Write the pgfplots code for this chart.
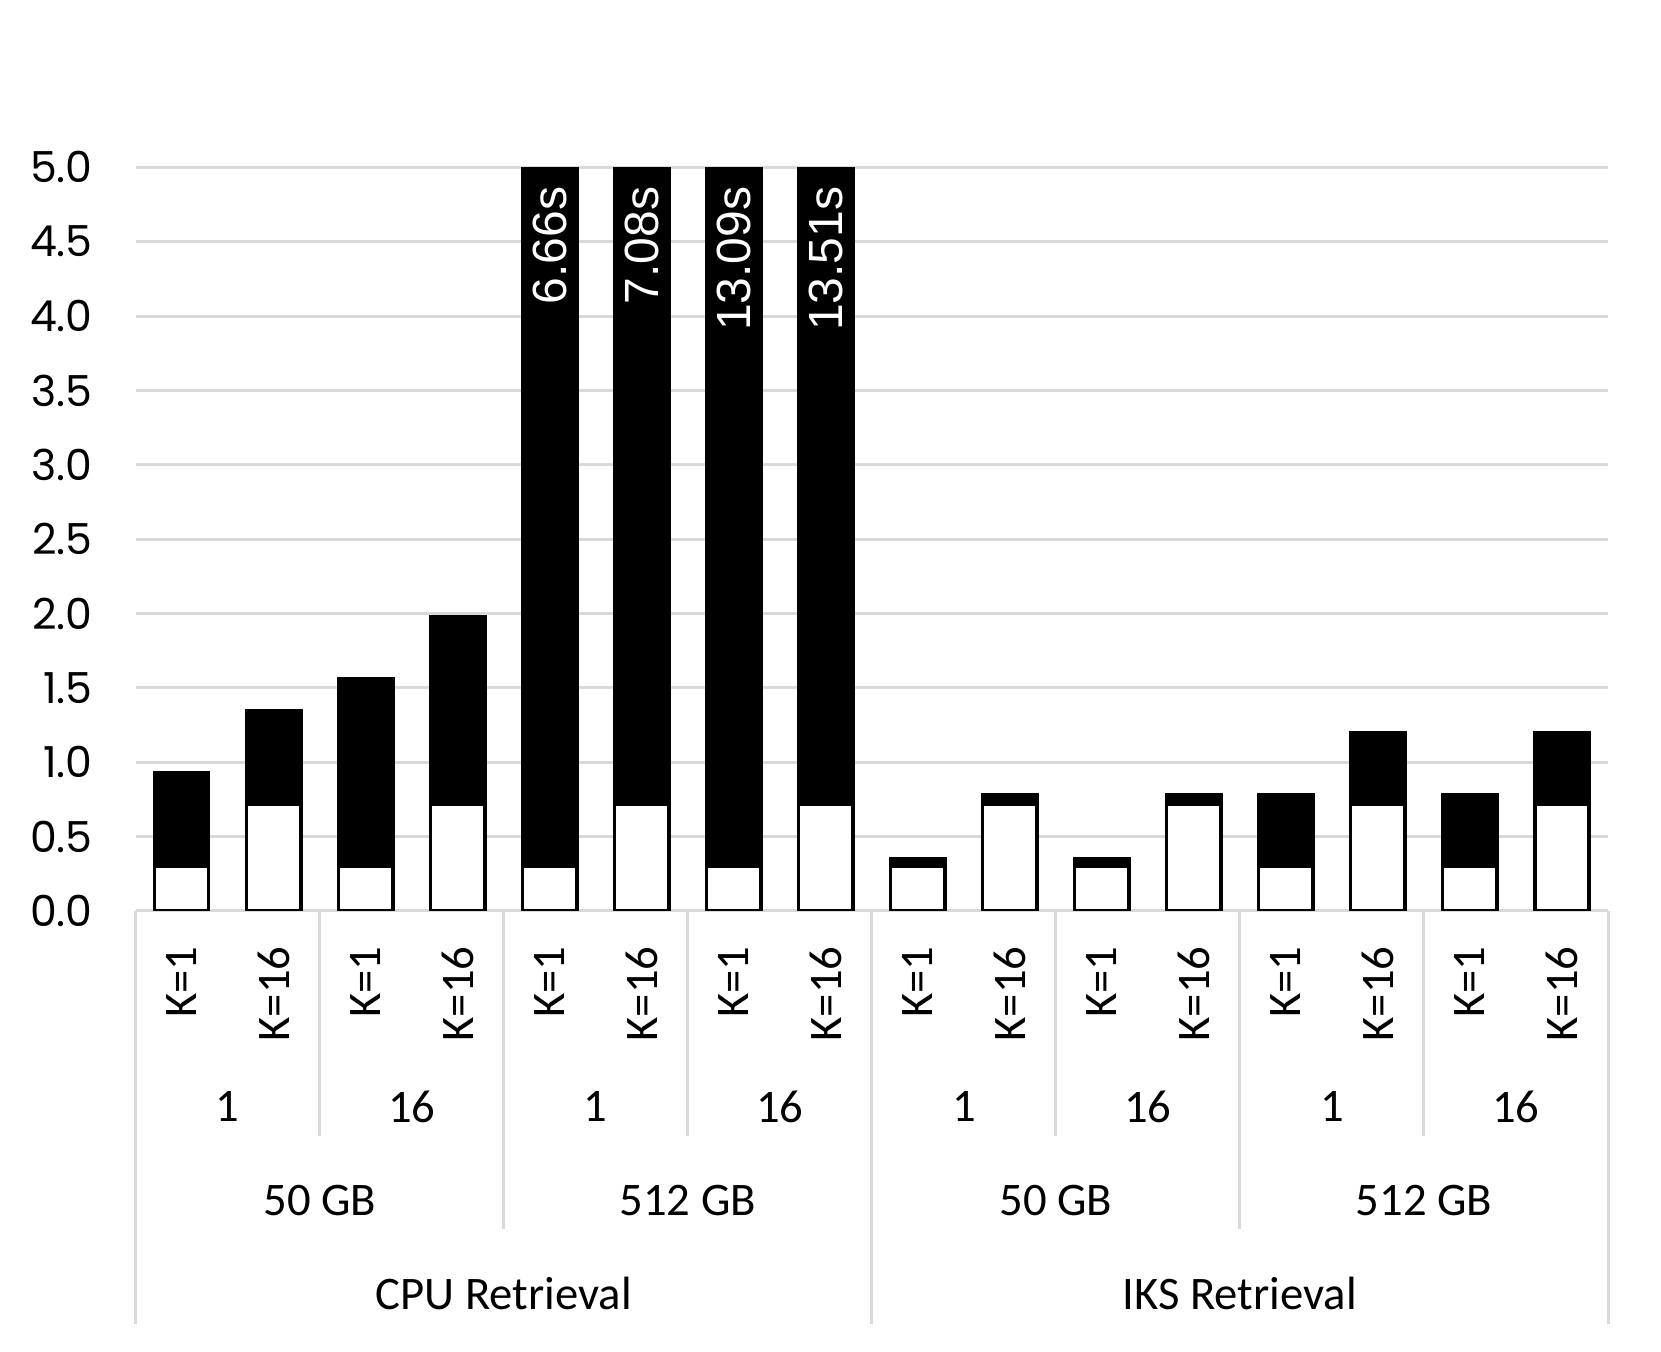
\documentclass[border=0pt]{standalone}
\usepackage{pgfplots}
\pgfplotsset{compat=1.18}
\usepackage{fontspec}
\setmainfont{Carlito}
\newfontfamily\tickfont{Poppins}
\newfontfamily\arialfont{Liberation Sans}
\definecolor{gridgray}{HTML}{D9D9D9}

\begin{document}
\begin{tikzpicture}
\begin{axis}[
 scale only axis, width=441.7pt, height=223.1pt,
 ybar stacked, bar width=0.59,
 xmin=-0.5, xmax=15.5, ymin=0, ymax=5,
 xtick=\empty,
 ytick={0,0.5,1,1.5,2,2.5,3,3.5,4,4.5,5},
 ymajorgrids, grid style={gridgray, line width=0.9pt},
 axis line style={draw=none},
 major tick length=0pt,
 /pgf/number format/fixed, /pgf/number format/fixed zerofill, /pgf/number format/precision=1,
 /pgf/number format/assume math mode=true,
 yticklabel style={font=\tickfont\fontsize{12.8}{14}\selectfont, inner sep=0pt, anchor=east, xshift=-12.7pt},
]
\addplot[fill=white, draw=black, line width=1pt] coordinates {
 (0,0.30) (1,0.72) (2,0.30) (3,0.72) (4,0.30) (5,0.72) (6,0.30) (7,0.72)
 (8,0.30) (9,0.72) (10,0.30) (11,0.72) (12,0.30) (13,0.72) (14,0.30) (15,0.72)};
\addplot[fill=black, draw=black, line width=1pt] coordinates {
 (0,0.63) (1,0.63) (2,1.26) (3,1.26) (4,6.36) (5,6.36) (6,12.79) (7,12.79)
 (8,0.05) (9,0.06) (10,0.05) (11,0.06) (12,0.48) (13,0.48) (14,0.48) (15,0.48)};
\pgfplotsinvokeforeach{0,...,15}{\coordinate (c#1) at (axis cs:#1,0);}
\pgfplotsinvokeforeach{4,...,7}{\coordinate (t#1) at (axis cs:#1,4.86);}
\coordinate (sA) at (axis cs:-0.5,0);
\coordinate (s1) at (axis cs:1.5,0);
\coordinate (s3) at (axis cs:3.5,0);
\coordinate (s5) at (axis cs:5.5,0);
\coordinate (s7) at (axis cs:7.5,0);
\coordinate (s9) at (axis cs:9.5,0);
\coordinate (s11) at (axis cs:11.5,0);
\coordinate (s13) at (axis cs:13.5,0);
\coordinate (s15) at (axis cs:15.5,0);
\coordinate (p0) at (axis cs:0.5,0);
\coordinate (p2) at (axis cs:2.5,0);
\coordinate (p4) at (axis cs:4.5,0);
\coordinate (p6) at (axis cs:6.5,0);
\coordinate (p8) at (axis cs:8.5,0);
\coordinate (p10) at (axis cs:10.5,0);
\coordinate (p12) at (axis cs:12.5,0);
\coordinate (p14) at (axis cs:14.5,0);
\coordinate (LL) at (rel axis cs:0,0);
\coordinate (UR) at (rel axis cs:1,1);
\end{axis}
% bar value labels
\foreach \i/\t in {4/6.66s,5/7.08s,6/13.09s,7/13.51s}
  \node[rotate=90, anchor=east, text=white, font=\arialfont\fontsize{14.4}{16}\selectfont, inner sep=0pt, xshift=0.6pt] at (t\i) {\t};
% separators
\foreach \s in {s1,s5,s9,s13} \draw[gridgray, line width=0.9pt] (\s) -- ++(0,-67.4pt);
\foreach \s in {s3,s11} \draw[gridgray, line width=0.9pt] (\s) -- ++(0,-95.3pt);
\foreach \s in {sA,s7,s15} \draw[gridgray, line width=0.9pt] (\s) -- ++(0,-123.9pt);
% K labels
\foreach \i in {0,2,...,14} \node[rotate=90, anchor=east, inner sep=0pt, font=\fontsize{14}{16}\selectfont] at ([yshift=-10.5pt]c\i) {K=1};
\foreach \i in {1,3,...,15} \node[rotate=90, anchor=east, inner sep=0pt, font=\fontsize{14}{16}\selectfont] at ([yshift=-10.5pt]c\i) {K=16};
% level 1
\foreach \p/\t in {p0/1,p2/16,p4/1,p6/16,p8/1,p10/16,p12/1,p14/16}
  \node[font=\fontsize{14}{16}\selectfont] at ([yshift=-58.8pt]\p) {\t};
% level 2
\foreach \p/\t in {s1/50 GB,s5/512 GB,s9/50 GB,s13/512 GB}
  \node[font=\fontsize{14}{16}\selectfont] at ([yshift=-86.8pt]\p) {\t};
% level 3
\node[font=\fontsize{14}{16}\selectfont] at ([yshift=-114.7pt]s3) {CPU Retrieval};
\node[font=\fontsize{14}{16}\selectfont] at ([yshift=-114.7pt]s11) {IKS Retrieval};
\path ([xshift=-40.7pt,yshift=-132.3pt]LL) rectangle ([xshift=15.9pt,yshift=50.2pt]UR);
\end{tikzpicture}
\end{document}
